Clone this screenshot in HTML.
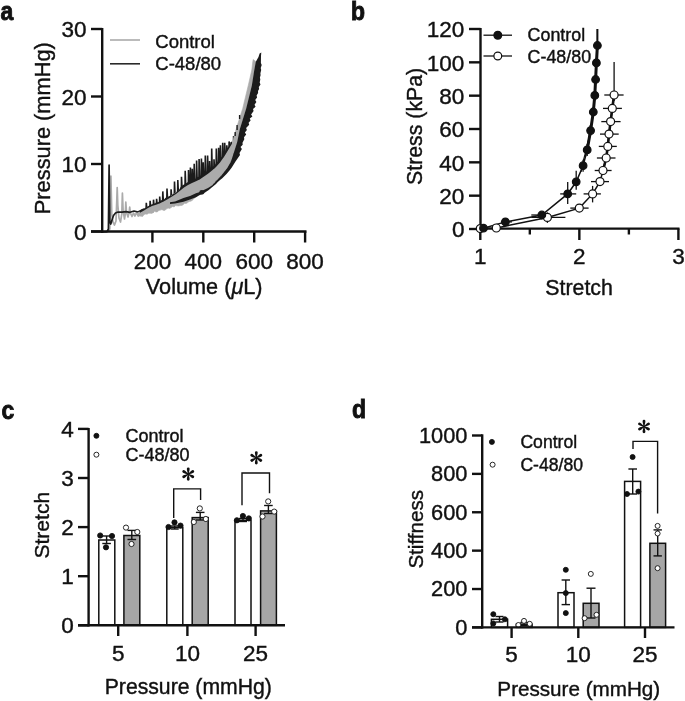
<!DOCTYPE html>
<html><head><meta charset="utf-8"><style>
html,body{margin:0;padding:0;background:#fff;overflow:hidden;}
svg{display:block;will-change:transform;}
text{font-family:"Liberation Sans", sans-serif;fill:#111;stroke:#111;stroke-width:0.4px;}
</style></head><body>
<svg width="685" height="701" viewBox="0 0 685 701">
<rect width="685" height="701" fill="#fff"/>
<text transform="translate(0.4,19.6) scale(0.9,1)" font-size="25.5" font-weight="bold" style="stroke-width:0.9px">a</text>
<text transform="translate(351.0,19.8) scale(0.9,1)" font-size="25.5" font-weight="bold" style="stroke-width:0.9px">b</text>
<text transform="translate(1.4,418.5) scale(0.9,1)" font-size="25.5" font-weight="bold" style="stroke-width:0.9px">c</text>
<text transform="translate(352.0,418.2) scale(0.9,1)" font-size="25.5" font-weight="bold" style="stroke-width:0.9px">d</text>
<polyline points="101.0,231.8 108.0,231.3 109.8,229.0 110.9,176.0 111.8,215.0 113.0,222.0 114.5,225.0 116.0,221.0 116.8,200.0 117.2,187.6 117.8,205.0 119.0,218.0 120.5,222.0 121.8,214.0 122.4,193.0 123.1,210.0 124.5,219.0 125.3,214.0 125.8,202.0 126.5,212.0 128.0,217.0 129.2,212.0 129.7,207.0 130.4,213.0 132.0,216.5 133.5,213.0 135.0,216.0 136.5,212.5 138.0,215.5 140.0,212.0 142.0,215.0 144.0,211.0 146.0,213.0" fill="none" stroke="#ababab" stroke-width="1.7" stroke-linejoin="round"/>
<polyline points="101.0,232.0 107.0,231.6 108.4,229.0 109.1,165.2 109.8,222.0 110.8,224.0 112.0,220.0 113.5,215.5 115.5,213.0 118.0,212.0 122.0,212.2 126.0,211.6 130.0,212.3 134.0,211.0 138.0,212.0 142.0,210.0 146.0,209.0 150.0,207.5" fill="none" stroke="#1c1c1c" stroke-width="1.7" stroke-linejoin="round"/>
<polyline points="146.0,211.5 146.3,202.9 146.9,209.5 149.8,211.5 150.1,200.8 150.7,207.1 153.2,210.4 153.5,199.7 154.1,205.9 156.3,209.3 156.6,198.8 157.2,204.8 159.4,208.2 159.7,196.6 160.3,203.7 162.5,206.7 162.8,191.4 163.4,202.2 166.7,204.7 167.0,188.6 167.6,200.0 170.8,203.2 171.1,189.2 171.7,197.6 174.2,202.2 174.5,181.5 175.1,195.4 177.5,201.3 177.8,180.0 178.4,193.0 181.2,200.3 181.5,176.8 182.1,189.9 184.9,199.2 185.2,170.8 185.8,187.1 188.2,198.1 188.5,170.0 189.1,185.1 190.1,197.5 190.4,167.6 191.0,184.0 192.0,196.6 192.3,168.7 192.9,183.1 193.9,195.9 194.2,163.7 194.8,182.3 196.3,194.8 196.6,160.6 197.2,181.2 198.8,193.2 199.1,159.1 199.7,180.2 201.1,192.4 201.4,158.4 202.0,178.6 202.9,191.9 203.2,162.3 203.8,177.4 205.0,190.9 205.3,155.5 205.9,175.9 207.3,189.8 207.6,155.6 208.2,174.4 209.3,188.5 209.6,161.1 210.2,173.0 211.4,186.9 211.7,148.6 212.3,171.3 213.7,185.0 214.0,159.2 214.6,169.4 216.0,183.0 216.3,148.6 216.9,167.0 218.3,180.4 218.6,147.7 219.2,164.6 220.1,178.4 220.4,145.2 221.0,162.6 222.4,175.8 222.7,142.8 223.3,159.3 224.4,173.4 224.7,142.8 225.3,156.4 226.5,170.3 226.8,145.3 227.4,152.9 228.8,166.3 229.1,141.4 229.7,148.9 230.9,162.2 231.2,141.9 231.8,145.6 233.3,158.0 233.6,136.1 234.2,140.0" fill="none" stroke="#1c1c1c" stroke-width="1.6" stroke-linejoin="miter"/>
<polygon points="138.0,212.6 139.5,212.2 141.0,211.6 142.5,210.3 144.0,209.0 145.5,208.7 147.0,207.7 148.5,207.0 150.0,206.7 151.5,205.8 153.0,205.0 154.5,204.6 156.0,204.2 157.5,202.7 159.0,203.5 160.5,202.7 162.0,202.1 163.5,201.2 165.0,199.8 166.5,198.9 168.0,197.6 169.5,197.6 171.0,195.8 172.5,194.8 174.0,194.0 175.5,193.0 177.0,192.2 178.5,190.5 180.0,189.2 181.5,188.1 183.0,186.8 184.5,186.2 186.0,184.7 187.5,185.1 189.0,183.8 190.5,182.2 192.0,181.7 193.5,181.2 195.0,180.6 196.5,179.6 198.0,180.1 199.5,179.6 201.0,177.7 202.5,176.6 204.0,174.9 205.5,173.9 207.0,173.3 208.5,172.2 210.0,172.0 211.5,169.7 213.0,168.2 214.5,168.4 216.0,166.1 217.5,163.9 219.0,162.9 220.5,160.2 222.0,158.9 223.5,157.5 225.1,155.0 232.6,142.1 236.1,129.3 242.7,108.5 248.2,85.7 251.8,70.0 252.8,61.7 253.2,59.5 256.0,61.7 254.5,70.0 252.0,85.7 246.4,108.5 240.0,129.3 237.4,142.1 233.3,155.0 234.1,155.4 232.6,157.9 231.1,160.8 229.6,164.5 228.1,167.4 226.6,169.5 225.1,171.3 223.6,173.2 222.1,175.0 220.6,176.0 219.1,178.1 217.6,179.5 216.1,180.6 214.6,182.3 213.1,184.3 211.6,185.9 210.1,188.2 208.6,189.8 207.1,190.1 205.6,192.0 204.1,193.2 202.6,194.3 201.1,194.2 199.6,194.8 198.1,195.7 196.6,196.6 195.1,197.5 193.6,199.1 192.1,200.5 190.6,201.3 189.1,201.5 187.6,202.6 186.1,203.6 184.6,203.2 183.1,204.8 181.6,205.5 180.1,205.6 178.6,205.9 177.1,205.8 175.6,205.6 174.1,206.9 172.6,206.5 171.1,207.6 169.6,208.5 168.1,208.1 166.6,208.8 165.1,210.3 163.6,210.4 162.1,209.7 160.6,209.8 159.1,210.2 157.6,211.7 156.1,212.0 154.6,211.3 153.1,212.7 151.6,213.4 150.1,213.2 148.6,213.3 147.1,214.2 145.6,214.1 144.1,214.4 142.6,216.5 141.1,216.2 139.6,216.0 138.1,216.7" fill="#ababab" stroke="#ababab" stroke-width="0.6"/>
<polygon points="140.0,210.8 141.5,209.4 143.0,208.6 144.5,208.6 146.0,207.6 147.5,206.6 149.0,205.8 150.5,204.4 152.0,204.4 153.5,203.6 155.0,203.6 156.5,201.9 158.0,202.2 159.5,201.5 161.0,200.6 162.5,199.4 164.0,199.4 165.5,197.8 167.0,197.5 168.5,196.6 170.0,195.8 171.5,195.6 173.0,194.0 174.5,193.4 176.0,192.7 177.5,190.4 179.0,190.0 180.5,187.3 182.0,185.7 183.5,184.7 185.0,184.1 186.5,182.9 188.0,181.9 189.5,180.6 191.0,180.9 192.5,179.6 194.0,179.4 195.5,178.7 197.0,177.3 198.5,177.0 200.0,176.1 201.5,174.7 203.0,173.4 204.5,173.1 206.0,171.8 207.5,171.0 209.0,169.9 210.5,168.5 212.0,167.6 213.5,166.3 215.0,164.9 216.5,162.6 218.0,161.4 219.5,159.5 221.0,157.4 222.5,156.3 224.0,153.7 225.5,150.7 227.0,148.3 228.5,146.8 230.0,144.4 231.5,141.4 232.0,143.6 228.0,150.2 224.0,156.8 220.0,162.5 216.0,166.9 212.0,170.6 208.0,173.7 204.0,176.4 200.0,179.2 196.0,181.2 192.0,182.9 188.0,185.0 184.0,187.5 180.0,190.8 176.0,194.0 172.0,196.6 168.0,199.0 164.0,201.3 160.0,203.3 156.0,204.7 152.0,206.1 148.0,208.1 144.0,210.6 140.0,212.8" fill="#1c1c1c"/>
<polygon points="170.0,202.2 175.0,201.4 183.5,197.9 190.0,196.0 196.0,193.2 199.2,192.3 202.7,190.4 208.0,188.0 212.0,185.6 216.0,181.6 220.0,177.5 220.0,179.5 216.0,183.9 212.0,187.2 208.0,190.5 202.7,193.8 199.2,195.2 196.0,197.3 190.0,199.6 183.5,201.7 175.0,203.4 170.0,204.1" fill="#1c1c1c"/>
<ellipse cx="201.8" cy="192.2" rx="2.5" ry="2.2" fill="#1c1c1c"/>
<polygon points="218.0,181.5 222.0,178.5 226.5,174.0 229.5,170.5 231.6,167.8 235.5,161.5 240.0,155.0 239.5,153.0 241.9,149.0 240.5,147.0 242.7,144.8 242.5,142.8 244.3,139.3 244.0,137.3 246.2,134.4 244.9,132.4 246.9,129.9 246.1,127.9 249.2,124.8 248.6,122.8 250.6,120.6 249.8,118.6 252.4,116.5 251.1,114.5 253.6,110.9 253.0,108.9 255.6,106.8 254.5,104.8 256.4,102.1 255.2,100.1 257.1,97.5 256.6,95.5 258.1,93.1 258.0,91.1 259.1,89.0 258.8,87.0 260.5,84.4 259.7,82.4 260.3,79.4 259.9,77.4 260.6,75.3 260.4,73.3 261.2,69.9 260.7,67.9 261.7,64.9 260.9,62.9 261.0,56.0 261.3,52.5 259.6,53.5 258.5,57.0 255.8,61.7 254.3,70.0 251.8,85.7 246.2,108.5 239.8,129.3 237.2,142.1 233.1,155.0 231.0,161.5 227.3,168.0 221.0,176.0 216.0,181.5" fill="#1c1c1c"/>
<line x1="237.1" y1="125" x2="237.1" y2="130" stroke="#1c1c1c" stroke-width="1.4"/>
<line x1="239.6" y1="115" x2="239.6" y2="119" stroke="#1c1c1c" stroke-width="1.4"/>
<line x1="235.2" y1="132" x2="235.2" y2="136" stroke="#1c1c1c" stroke-width="1.4"/>
<line x1="102.20" y1="28.00" x2="102.20" y2="232.70" stroke="#111" stroke-width="2.4" />
<line x1="91.00" y1="231.50" x2="306.50" y2="231.50" stroke="#111" stroke-width="2.4" />
<line x1="91.00" y1="29.00" x2="102.20" y2="29.00" stroke="#111" stroke-width="2.4" />
<line x1="91.00" y1="96.50" x2="102.20" y2="96.50" stroke="#111" stroke-width="2.4" />
<line x1="91.00" y1="164.00" x2="102.20" y2="164.00" stroke="#111" stroke-width="2.4" />
<line x1="91.00" y1="231.50" x2="102.20" y2="231.50" stroke="#111" stroke-width="2.4" />
<line x1="152.40" y1="231.50" x2="152.40" y2="242.50" stroke="#111" stroke-width="2.4" />
<text x="152.40" y="268.80" font-size="22.5" text-anchor="middle" font-weight="normal" >200</text>
<line x1="203.30" y1="231.50" x2="203.30" y2="242.50" stroke="#111" stroke-width="2.4" />
<text x="203.30" y="268.80" font-size="22.5" text-anchor="middle" font-weight="normal" >400</text>
<line x1="254.20" y1="231.50" x2="254.20" y2="242.50" stroke="#111" stroke-width="2.4" />
<text x="254.20" y="268.80" font-size="22.5" text-anchor="middle" font-weight="normal" >600</text>
<line x1="305.10" y1="231.50" x2="305.10" y2="242.50" stroke="#111" stroke-width="2.4" />
<text x="305.10" y="268.80" font-size="22.5" text-anchor="middle" font-weight="normal" >800</text>
<text x="86.60" y="37.30" font-size="22.5" text-anchor="end" font-weight="normal" >30</text>
<text x="86.60" y="104.80" font-size="22.5" text-anchor="end" font-weight="normal" >20</text>
<text x="86.60" y="172.30" font-size="22.5" text-anchor="end" font-weight="normal" >10</text>
<text x="86.60" y="239.80" font-size="22.5" text-anchor="end" font-weight="normal" >0</text>
<text x="204.2" y="294" font-size="21.7" text-anchor="middle">Volume (<tspan font-style="italic">μ</tspan>L)</text>
<text transform="translate(50.40,128.20) rotate(-90)" x="0" y="0" font-size="21.8" text-anchor="middle">Pressure (mmHg)</text>
<line x1="110.00" y1="40.00" x2="140.00" y2="40.00" stroke="#aaa" stroke-width="1.6" />
<line x1="110.00" y1="63.80" x2="140.00" y2="63.80" stroke="#2a2a2a" stroke-width="1.6" />
<text x="155.30" y="48.00" font-size="18.5" text-anchor="start" font-weight="normal" >Control</text>
<text x="155.30" y="70.20" font-size="18.5" text-anchor="start" font-weight="normal" >C-48/80</text>
<line x1="480.50" y1="28.00" x2="480.50" y2="229.80" stroke="#111" stroke-width="2.4" />
<line x1="479.30" y1="228.60" x2="679.50" y2="228.60" stroke="#111" stroke-width="2.4" />
<line x1="469.00" y1="229.00" x2="480.50" y2="229.00" stroke="#111" stroke-width="2.4" />
<text x="464.40" y="237.30" font-size="22.5" text-anchor="end" font-weight="normal" >0</text>
<line x1="469.00" y1="195.67" x2="480.50" y2="195.67" stroke="#111" stroke-width="2.4" />
<text x="464.40" y="203.97" font-size="22.5" text-anchor="end" font-weight="normal" >20</text>
<line x1="469.00" y1="162.33" x2="480.50" y2="162.33" stroke="#111" stroke-width="2.4" />
<text x="464.40" y="170.63" font-size="22.5" text-anchor="end" font-weight="normal" >40</text>
<line x1="469.00" y1="129.00" x2="480.50" y2="129.00" stroke="#111" stroke-width="2.4" />
<text x="464.40" y="137.30" font-size="22.5" text-anchor="end" font-weight="normal" >60</text>
<line x1="469.00" y1="95.67" x2="480.50" y2="95.67" stroke="#111" stroke-width="2.4" />
<text x="464.40" y="103.97" font-size="22.5" text-anchor="end" font-weight="normal" >80</text>
<line x1="469.00" y1="62.33" x2="480.50" y2="62.33" stroke="#111" stroke-width="2.4" />
<text x="464.40" y="70.63" font-size="22.5" text-anchor="end" font-weight="normal" >100</text>
<line x1="469.00" y1="29.00" x2="480.50" y2="29.00" stroke="#111" stroke-width="2.4" />
<text x="464.40" y="37.30" font-size="22.5" text-anchor="end" font-weight="normal" >120</text>
<line x1="480.30" y1="228.60" x2="480.30" y2="240.00" stroke="#111" stroke-width="2.4" />
<text x="480.30" y="264.00" font-size="22.5" text-anchor="middle" font-weight="normal" >1</text>
<line x1="579.35" y1="228.60" x2="579.35" y2="240.00" stroke="#111" stroke-width="2.4" />
<text x="579.35" y="264.00" font-size="22.5" text-anchor="middle" font-weight="normal" >2</text>
<line x1="678.40" y1="228.60" x2="678.40" y2="240.00" stroke="#111" stroke-width="2.4" />
<text x="678.40" y="264.00" font-size="22.5" text-anchor="middle" font-weight="normal" >3</text>
<line x1="529.83" y1="228.60" x2="529.83" y2="234.50" stroke="#111" stroke-width="2.4" />
<line x1="628.88" y1="228.60" x2="628.88" y2="234.50" stroke="#111" stroke-width="2.4" />
<text x="579.10" y="295.20" font-size="21.3" text-anchor="middle" font-weight="normal" >Stretch</text>
<text transform="translate(422.20,126.40) rotate(-90)" x="0" y="0" font-size="21.3" text-anchor="middle">Stress (kPa)</text>
<line x1="500.90" y1="221.90" x2="511.90" y2="221.90" stroke="#111" stroke-width="1.3" />
<line x1="531.30" y1="215.00" x2="550.80" y2="215.00" stroke="#111" stroke-width="1.3" />
<line x1="560.20" y1="193.90" x2="576.20" y2="193.90" stroke="#111" stroke-width="1.3" />
<line x1="567.70" y1="181.90" x2="567.70" y2="203.90" stroke="#111" stroke-width="1.3" />
<line x1="576.20" y1="170.80" x2="576.20" y2="189.80" stroke="#111" stroke-width="1.3" />
<line x1="583.10" y1="159.70" x2="583.10" y2="171.70" stroke="#111" stroke-width="1.3" />
<line x1="587.20" y1="143.90" x2="587.20" y2="155.90" stroke="#111" stroke-width="1.3" />
<line x1="590.60" y1="125.60" x2="590.60" y2="135.60" stroke="#111" stroke-width="1.3" />
<line x1="593.30" y1="107.00" x2="593.30" y2="117.00" stroke="#111" stroke-width="1.3" />
<line x1="594.80" y1="90.40" x2="594.80" y2="100.40" stroke="#111" stroke-width="1.3" />
<line x1="595.60" y1="74.50" x2="595.60" y2="84.50" stroke="#111" stroke-width="1.3" />
<line x1="596.40" y1="57.90" x2="596.40" y2="67.90" stroke="#111" stroke-width="1.3" />
<line x1="597.40" y1="29.00" x2="597.40" y2="62.50" stroke="#111" stroke-width="1.3" />
<line x1="531.40" y1="217.40" x2="565.40" y2="217.40" stroke="#111" stroke-width="1.3" />
<line x1="547.40" y1="212.40" x2="547.40" y2="222.90" stroke="#111" stroke-width="1.3" />
<line x1="570.30" y1="208.10" x2="588.60" y2="208.10" stroke="#111" stroke-width="1.3" />
<line x1="579.30" y1="204.60" x2="579.30" y2="211.60" stroke="#111" stroke-width="1.3" />
<line x1="583.60" y1="193.90" x2="600.90" y2="193.90" stroke="#111" stroke-width="1.3" />
<line x1="592.60" y1="185.90" x2="592.60" y2="202.40" stroke="#111" stroke-width="1.3" />
<line x1="591.00" y1="181.60" x2="609.00" y2="181.60" stroke="#111" stroke-width="1.3" />
<line x1="600.00" y1="177.10" x2="600.00" y2="186.10" stroke="#111" stroke-width="1.3" />
<line x1="594.70" y1="170.50" x2="611.60" y2="170.50" stroke="#111" stroke-width="1.3" />
<line x1="603.00" y1="166.50" x2="603.00" y2="174.50" stroke="#111" stroke-width="1.3" />
<line x1="596.90" y1="158.00" x2="615.50" y2="158.00" stroke="#111" stroke-width="1.3" />
<line x1="606.20" y1="154.00" x2="606.20" y2="162.00" stroke="#111" stroke-width="1.3" />
<line x1="598.80" y1="146.40" x2="616.80" y2="146.40" stroke="#111" stroke-width="1.3" />
<line x1="607.80" y1="142.40" x2="607.80" y2="150.40" stroke="#111" stroke-width="1.3" />
<line x1="600.00" y1="134.10" x2="618.70" y2="134.10" stroke="#111" stroke-width="1.3" />
<line x1="609.00" y1="130.10" x2="609.00" y2="138.10" stroke="#111" stroke-width="1.3" />
<line x1="601.30" y1="121.60" x2="620.60" y2="121.60" stroke="#111" stroke-width="1.3" />
<line x1="610.60" y1="117.60" x2="610.60" y2="125.60" stroke="#111" stroke-width="1.3" />
<line x1="603.00" y1="108.40" x2="621.90" y2="108.40" stroke="#111" stroke-width="1.3" />
<line x1="612.30" y1="104.40" x2="612.30" y2="112.40" stroke="#111" stroke-width="1.3" />
<line x1="604.30" y1="95.00" x2="623.60" y2="95.00" stroke="#111" stroke-width="1.3" />
<line x1="614.10" y1="62.00" x2="614.10" y2="101.00" stroke="#111" stroke-width="1.3" />
<polyline points="483.5,228.2 505.4,221.9 541.8,215.0 567.7,193.9 576.2,181.8 583.1,165.7 587.2,149.9 590.6,130.6 593.3,112.0 594.8,95.4 595.6,79.5 596.4,62.9 597.4,45.5" fill="none" stroke="#111" stroke-width="1.5"/>
<polyline points="480.3,228.6 496.3,228.0 547.4,217.4 579.3,208.1 592.6,193.9 600.0,181.6 603.0,170.5 606.2,158.0 607.8,146.4 609.0,134.1 610.6,121.6 612.3,108.4 614.1,95.0" fill="none" stroke="#111" stroke-width="1.5"/>
<polyline points="585.5,157 587.5,143 589,138 590.2,125" fill="none" stroke="#111" stroke-width="1.1"/>
<polyline points="581,172 583.5,160 586.2,150" fill="none" stroke="#111" stroke-width="1.1"/>
<polyline points="603.0,170.5 606.2,158.0 607.8,146.4 609.0,134.1 610.6,121.6 612.3,108.4 614.1,95.0" fill="none" stroke="#111" stroke-width="2.6"/>
<polyline points="587.2,149.9 590.6,130.6 593.3,112.0 594.8,95.4 595.6,79.5 596.4,62.9 597.4,45.5" fill="none" stroke="#111" stroke-width="3"/>
<line x1="597.40" y1="29.00" x2="597.40" y2="45.00" stroke="#111" stroke-width="1.9" />
<circle cx="480.30" cy="228.60" r="4.0" fill="#fff" stroke="#111" stroke-width="1.2"/>
<circle cx="496.30" cy="228.00" r="4.0" fill="#fff" stroke="#111" stroke-width="1.2"/>
<circle cx="547.40" cy="217.40" r="4.0" fill="#fff" stroke="#111" stroke-width="1.2"/>
<circle cx="579.30" cy="208.10" r="4.0" fill="#fff" stroke="#111" stroke-width="1.2"/>
<circle cx="592.60" cy="193.90" r="4.0" fill="#fff" stroke="#111" stroke-width="1.2"/>
<circle cx="600.00" cy="181.60" r="4.0" fill="#fff" stroke="#111" stroke-width="1.2"/>
<circle cx="603.00" cy="170.50" r="4.0" fill="#fff" stroke="#111" stroke-width="1.2"/>
<circle cx="606.20" cy="158.00" r="4.0" fill="#fff" stroke="#111" stroke-width="1.2"/>
<circle cx="607.80" cy="146.40" r="4.0" fill="#fff" stroke="#111" stroke-width="1.2"/>
<circle cx="609.00" cy="134.10" r="4.0" fill="#fff" stroke="#111" stroke-width="1.2"/>
<circle cx="610.60" cy="121.60" r="4.0" fill="#fff" stroke="#111" stroke-width="1.2"/>
<circle cx="612.30" cy="108.40" r="4.0" fill="#fff" stroke="#111" stroke-width="1.2"/>
<circle cx="614.10" cy="95.00" r="4.0" fill="#fff" stroke="#111" stroke-width="1.2"/>
<circle cx="483.50" cy="228.20" r="3.8" fill="#111" stroke="#111" stroke-width="1.2"/>
<circle cx="505.40" cy="221.90" r="3.8" fill="#111" stroke="#111" stroke-width="1.2"/>
<circle cx="541.80" cy="215.00" r="3.8" fill="#111" stroke="#111" stroke-width="1.2"/>
<circle cx="567.70" cy="193.90" r="3.8" fill="#111" stroke="#111" stroke-width="1.2"/>
<circle cx="576.20" cy="181.80" r="3.8" fill="#111" stroke="#111" stroke-width="1.2"/>
<circle cx="583.10" cy="165.70" r="3.8" fill="#111" stroke="#111" stroke-width="1.2"/>
<circle cx="587.20" cy="149.90" r="3.8" fill="#111" stroke="#111" stroke-width="1.2"/>
<circle cx="590.60" cy="130.60" r="3.8" fill="#111" stroke="#111" stroke-width="1.2"/>
<circle cx="593.30" cy="112.00" r="3.8" fill="#111" stroke="#111" stroke-width="1.2"/>
<circle cx="594.80" cy="95.40" r="3.8" fill="#111" stroke="#111" stroke-width="1.2"/>
<circle cx="595.60" cy="79.50" r="3.8" fill="#111" stroke="#111" stroke-width="1.2"/>
<circle cx="596.40" cy="62.90" r="3.8" fill="#111" stroke="#111" stroke-width="1.2"/>
<circle cx="597.40" cy="45.50" r="3.8" fill="#111" stroke="#111" stroke-width="1.2"/>
<line x1="483.50" y1="35.20" x2="512.00" y2="35.20" stroke="#111" stroke-width="1.3" />
<circle cx="497.80" cy="35.20" r="3.9" fill="#111" stroke="#111" stroke-width="1.2"/>
<line x1="483.50" y1="56.00" x2="512.00" y2="56.00" stroke="#111" stroke-width="1.3" />
<circle cx="497.80" cy="56.00" r="3.9" fill="#fff" stroke="#111" stroke-width="1.2"/>
<text x="527.60" y="41.30" font-size="17.85" text-anchor="start" font-weight="normal" >Control</text>
<text x="527.60" y="62.70" font-size="17.85" text-anchor="start" font-weight="normal" >C-48/80</text>
<rect x="98.80" y="540.00" width="16.00" height="85.30" fill="#fff" stroke="#111" stroke-width="1.5"/>
<rect x="123.90" y="535.50" width="15.90" height="89.80" fill="#a6a6a6" stroke="#111" stroke-width="1.5"/>
<rect x="166.80" y="527.50" width="16.00" height="97.80" fill="#fff" stroke="#111" stroke-width="1.5"/>
<rect x="192.20" y="517.60" width="16.00" height="107.70" fill="#a6a6a6" stroke="#111" stroke-width="1.5"/>
<rect x="235.00" y="520.30" width="16.00" height="105.00" fill="#fff" stroke="#111" stroke-width="1.5"/>
<rect x="260.60" y="510.90" width="15.80" height="114.40" fill="#a6a6a6" stroke="#111" stroke-width="1.5"/>
<line x1="106.60" y1="536.00" x2="106.60" y2="543.50" stroke="#111" stroke-width="1.4" />
<line x1="102.30" y1="536.00" x2="110.90" y2="536.00" stroke="#111" stroke-width="1.4" />
<line x1="102.30" y1="543.50" x2="110.90" y2="543.50" stroke="#111" stroke-width="1.4" />
<line x1="131.80" y1="530.40" x2="131.80" y2="539.50" stroke="#111" stroke-width="1.4" />
<line x1="127.50" y1="530.40" x2="136.10" y2="530.40" stroke="#111" stroke-width="1.4" />
<line x1="127.50" y1="539.50" x2="136.10" y2="539.50" stroke="#111" stroke-width="1.4" />
<line x1="174.70" y1="526.00" x2="174.70" y2="529.00" stroke="#111" stroke-width="1.4" />
<line x1="170.70" y1="526.00" x2="178.70" y2="526.00" stroke="#111" stroke-width="1.4" />
<line x1="170.70" y1="529.00" x2="178.70" y2="529.00" stroke="#111" stroke-width="1.4" />
<line x1="200.20" y1="512.40" x2="200.20" y2="520.00" stroke="#111" stroke-width="1.4" />
<line x1="195.90" y1="512.40" x2="204.50" y2="512.40" stroke="#111" stroke-width="1.4" />
<line x1="195.90" y1="520.00" x2="204.50" y2="520.00" stroke="#111" stroke-width="1.4" />
<line x1="243.00" y1="518.50" x2="243.00" y2="521.50" stroke="#111" stroke-width="1.4" />
<line x1="239.00" y1="518.50" x2="247.00" y2="518.50" stroke="#111" stroke-width="1.4" />
<line x1="239.00" y1="521.50" x2="247.00" y2="521.50" stroke="#111" stroke-width="1.4" />
<line x1="268.40" y1="505.50" x2="268.40" y2="513.50" stroke="#111" stroke-width="1.4" />
<line x1="264.10" y1="505.50" x2="272.70" y2="505.50" stroke="#111" stroke-width="1.4" />
<line x1="264.10" y1="513.50" x2="272.70" y2="513.50" stroke="#111" stroke-width="1.4" />
<circle cx="100.20" cy="535.50" r="2.6" fill="#111" stroke="#111" stroke-width="0.9"/>
<circle cx="112.00" cy="536.00" r="2.6" fill="#111" stroke="#111" stroke-width="0.9"/>
<circle cx="106.00" cy="547.30" r="2.6" fill="#111" stroke="#111" stroke-width="0.9"/>
<circle cx="168.50" cy="527.00" r="2.6" fill="#111" stroke="#111" stroke-width="0.9"/>
<circle cx="174.50" cy="522.40" r="2.6" fill="#111" stroke="#111" stroke-width="0.9"/>
<circle cx="180.50" cy="525.60" r="2.6" fill="#111" stroke="#111" stroke-width="0.9"/>
<circle cx="236.90" cy="520.30" r="2.6" fill="#111" stroke="#111" stroke-width="0.9"/>
<circle cx="242.90" cy="516.00" r="2.6" fill="#111" stroke="#111" stroke-width="0.9"/>
<circle cx="248.80" cy="518.40" r="2.6" fill="#111" stroke="#111" stroke-width="0.9"/>
<circle cx="126.00" cy="527.60" r="2.6" fill="#fff" stroke="#111" stroke-width="0.9"/>
<circle cx="137.30" cy="532.00" r="2.6" fill="#fff" stroke="#111" stroke-width="0.9"/>
<circle cx="131.50" cy="544.00" r="2.6" fill="#fff" stroke="#111" stroke-width="0.9"/>
<circle cx="199.80" cy="508.40" r="2.6" fill="#fff" stroke="#111" stroke-width="0.9"/>
<circle cx="205.80" cy="519.00" r="2.6" fill="#fff" stroke="#111" stroke-width="0.9"/>
<circle cx="193.80" cy="522.00" r="2.6" fill="#fff" stroke="#111" stroke-width="0.9"/>
<circle cx="268.20" cy="501.40" r="2.6" fill="#fff" stroke="#111" stroke-width="0.9"/>
<circle cx="274.20" cy="511.60" r="2.6" fill="#fff" stroke="#111" stroke-width="0.9"/>
<circle cx="262.50" cy="516.50" r="2.6" fill="#fff" stroke="#111" stroke-width="0.9"/>
<polyline points="173.7,517.9 173.7,488.9 200.6,488.9 200.6,500" fill="none" stroke="#111" stroke-width="1.4"/>
<polyline points="242,505.2 242,473 269.5,473 269.5,493.2" fill="none" stroke="#111" stroke-width="1.4"/>
<g transform="translate(188.25,474.10) scale(1.0)" fill="#111"><path d="M -0.5,0 C -0.65,-2 -1.4,-3.4 -1.4,-5.25 A 1.4,1.4 0 0 1 1.4,-5.25 C 1.4,-3.4 0.65,-2 0.5,0 Z" transform="rotate(0)"/><path d="M -0.5,0 C -0.65,-2 -1.4,-3.4 -1.4,-5.25 A 1.4,1.4 0 0 1 1.4,-5.25 C 1.4,-3.4 0.65,-2 0.5,0 Z" transform="rotate(60)"/><path d="M -0.5,0 C -0.65,-2 -1.4,-3.4 -1.4,-5.25 A 1.4,1.4 0 0 1 1.4,-5.25 C 1.4,-3.4 0.65,-2 0.5,0 Z" transform="rotate(120)"/><path d="M -0.5,0 C -0.65,-2 -1.4,-3.4 -1.4,-5.25 A 1.4,1.4 0 0 1 1.4,-5.25 C 1.4,-3.4 0.65,-2 0.5,0 Z" transform="rotate(180)"/><path d="M -0.5,0 C -0.65,-2 -1.4,-3.4 -1.4,-5.25 A 1.4,1.4 0 0 1 1.4,-5.25 C 1.4,-3.4 0.65,-2 0.5,0 Z" transform="rotate(240)"/><path d="M -0.5,0 C -0.65,-2 -1.4,-3.4 -1.4,-5.25 A 1.4,1.4 0 0 1 1.4,-5.25 C 1.4,-3.4 0.65,-2 0.5,0 Z" transform="rotate(300)"/><circle r="0.9"/></g>
<g transform="translate(256.30,457.80) scale(1.0)" fill="#111"><path d="M -0.5,0 C -0.65,-2 -1.4,-3.4 -1.4,-5.25 A 1.4,1.4 0 0 1 1.4,-5.25 C 1.4,-3.4 0.65,-2 0.5,0 Z" transform="rotate(0)"/><path d="M -0.5,0 C -0.65,-2 -1.4,-3.4 -1.4,-5.25 A 1.4,1.4 0 0 1 1.4,-5.25 C 1.4,-3.4 0.65,-2 0.5,0 Z" transform="rotate(60)"/><path d="M -0.5,0 C -0.65,-2 -1.4,-3.4 -1.4,-5.25 A 1.4,1.4 0 0 1 1.4,-5.25 C 1.4,-3.4 0.65,-2 0.5,0 Z" transform="rotate(120)"/><path d="M -0.5,0 C -0.65,-2 -1.4,-3.4 -1.4,-5.25 A 1.4,1.4 0 0 1 1.4,-5.25 C 1.4,-3.4 0.65,-2 0.5,0 Z" transform="rotate(180)"/><path d="M -0.5,0 C -0.65,-2 -1.4,-3.4 -1.4,-5.25 A 1.4,1.4 0 0 1 1.4,-5.25 C 1.4,-3.4 0.65,-2 0.5,0 Z" transform="rotate(240)"/><path d="M -0.5,0 C -0.65,-2 -1.4,-3.4 -1.4,-5.25 A 1.4,1.4 0 0 1 1.4,-5.25 C 1.4,-3.4 0.65,-2 0.5,0 Z" transform="rotate(300)"/><circle r="0.9"/></g>
<line x1="88.60" y1="428.00" x2="88.60" y2="626.50" stroke="#111" stroke-width="2.4" />
<line x1="78.00" y1="625.30" x2="285.00" y2="625.30" stroke="#111" stroke-width="2.4" />
<line x1="78.00" y1="625.30" x2="88.60" y2="625.30" stroke="#111" stroke-width="2.4" />
<text x="73.80" y="633.10" font-size="22.5" text-anchor="end" font-weight="normal" >0</text>
<line x1="78.00" y1="576.20" x2="88.60" y2="576.20" stroke="#111" stroke-width="2.4" />
<text x="73.80" y="584.00" font-size="22.5" text-anchor="end" font-weight="normal" >1</text>
<line x1="78.00" y1="527.10" x2="88.60" y2="527.10" stroke="#111" stroke-width="2.4" />
<text x="73.80" y="534.90" font-size="22.5" text-anchor="end" font-weight="normal" >2</text>
<line x1="78.00" y1="478.00" x2="88.60" y2="478.00" stroke="#111" stroke-width="2.4" />
<text x="73.80" y="485.80" font-size="22.5" text-anchor="end" font-weight="normal" >3</text>
<line x1="78.00" y1="428.90" x2="88.60" y2="428.90" stroke="#111" stroke-width="2.4" />
<text x="73.80" y="436.70" font-size="22.5" text-anchor="end" font-weight="normal" >4</text>
<line x1="118.20" y1="625.30" x2="118.20" y2="636.00" stroke="#111" stroke-width="2.4" />
<text x="118.20" y="661.00" font-size="22.5" text-anchor="middle" font-weight="normal" >5</text>
<line x1="187.40" y1="625.30" x2="187.40" y2="636.00" stroke="#111" stroke-width="2.4" />
<text x="187.40" y="661.00" font-size="22.5" text-anchor="middle" font-weight="normal" >10</text>
<line x1="255.60" y1="625.30" x2="255.60" y2="636.00" stroke="#111" stroke-width="2.4" />
<text x="255.60" y="661.00" font-size="22.5" text-anchor="middle" font-weight="normal" >25</text>
<text x="188.30" y="693.70" font-size="21.2" text-anchor="middle" font-weight="normal" >Pressure (mmHg)</text>
<text transform="translate(48.90,525.20) rotate(-90)" x="0" y="0" font-size="21.1" text-anchor="middle">Stretch</text>
<circle cx="96.40" cy="435.80" r="2.5" fill="#111" stroke="#111" stroke-width="0.9"/>
<circle cx="96.40" cy="454.70" r="2.5" fill="#fff" stroke="#111" stroke-width="0.9"/>
<text x="125.40" y="441.90" font-size="18.0" text-anchor="start" font-weight="normal" >Control</text>
<text x="125.40" y="460.60" font-size="18.0" text-anchor="start" font-weight="normal" >C-48/80</text>
<rect x="491.40" y="619.30" width="16.20" height="8.10" fill="#fff" stroke="#111" stroke-width="1.5"/>
<rect x="516.40" y="624.20" width="15.70" height="3.20" fill="#a6a6a6" stroke="#111" stroke-width="1.5"/>
<rect x="558.00" y="592.70" width="16.00" height="34.70" fill="#fff" stroke="#111" stroke-width="1.5"/>
<rect x="583.20" y="603.30" width="15.80" height="24.10" fill="#a6a6a6" stroke="#111" stroke-width="1.5"/>
<rect x="624.60" y="481.40" width="16.00" height="146.00" fill="#fff" stroke="#111" stroke-width="1.5"/>
<rect x="649.90" y="543.30" width="15.70" height="84.10" fill="#a6a6a6" stroke="#111" stroke-width="1.5"/>
<line x1="499.50" y1="616.50" x2="499.50" y2="622.00" stroke="#111" stroke-width="1.4" />
<line x1="495.50" y1="616.50" x2="503.50" y2="616.50" stroke="#111" stroke-width="1.4" />
<line x1="495.50" y1="622.00" x2="503.50" y2="622.00" stroke="#111" stroke-width="1.4" />
<line x1="524.30" y1="622.50" x2="524.30" y2="625.50" stroke="#111" stroke-width="1.4" />
<line x1="520.30" y1="622.50" x2="528.30" y2="622.50" stroke="#111" stroke-width="1.4" />
<line x1="520.30" y1="625.50" x2="528.30" y2="625.50" stroke="#111" stroke-width="1.4" />
<line x1="565.80" y1="580.00" x2="565.80" y2="604.60" stroke="#111" stroke-width="1.4" />
<line x1="561.60" y1="580.00" x2="570.00" y2="580.00" stroke="#111" stroke-width="1.4" />
<line x1="561.60" y1="604.60" x2="570.00" y2="604.60" stroke="#111" stroke-width="1.4" />
<line x1="591.00" y1="588.20" x2="591.00" y2="618.00" stroke="#111" stroke-width="1.4" />
<line x1="586.50" y1="588.20" x2="595.50" y2="588.20" stroke="#111" stroke-width="1.4" />
<line x1="586.50" y1="618.00" x2="595.50" y2="618.00" stroke="#111" stroke-width="1.4" />
<line x1="632.70" y1="469.00" x2="632.70" y2="494.00" stroke="#111" stroke-width="1.4" />
<line x1="628.40" y1="469.00" x2="637.00" y2="469.00" stroke="#111" stroke-width="1.4" />
<line x1="628.40" y1="494.00" x2="637.00" y2="494.00" stroke="#111" stroke-width="1.4" />
<line x1="657.70" y1="529.90" x2="657.70" y2="555.90" stroke="#111" stroke-width="1.4" />
<line x1="653.50" y1="529.90" x2="661.90" y2="529.90" stroke="#111" stroke-width="1.4" />
<line x1="653.50" y1="555.90" x2="661.90" y2="555.90" stroke="#111" stroke-width="1.4" />
<circle cx="493.30" cy="614.20" r="2.5" fill="#111" stroke="#111" stroke-width="0.9"/>
<circle cx="504.90" cy="619.30" r="2.5" fill="#111" stroke="#111" stroke-width="0.9"/>
<circle cx="493.30" cy="623.40" r="2.5" fill="#111" stroke="#111" stroke-width="0.9"/>
<circle cx="565.80" cy="569.80" r="2.5" fill="#111" stroke="#111" stroke-width="0.9"/>
<circle cx="565.80" cy="593.10" r="2.5" fill="#111" stroke="#111" stroke-width="0.9"/>
<circle cx="565.80" cy="613.10" r="2.5" fill="#111" stroke="#111" stroke-width="0.9"/>
<circle cx="632.60" cy="457.00" r="2.5" fill="#111" stroke="#111" stroke-width="0.9"/>
<circle cx="627.00" cy="494.00" r="2.5" fill="#111" stroke="#111" stroke-width="0.9"/>
<circle cx="638.40" cy="491.60" r="2.5" fill="#111" stroke="#111" stroke-width="0.9"/>
<circle cx="518.40" cy="625.00" r="2.5" fill="#fff" stroke="#111" stroke-width="0.9"/>
<circle cx="524.00" cy="620.90" r="2.5" fill="#fff" stroke="#111" stroke-width="0.9"/>
<circle cx="529.70" cy="623.80" r="2.5" fill="#fff" stroke="#111" stroke-width="0.9"/>
<circle cx="590.80" cy="573.90" r="2.5" fill="#fff" stroke="#111" stroke-width="0.9"/>
<circle cx="584.60" cy="618.20" r="2.5" fill="#fff" stroke="#111" stroke-width="0.9"/>
<circle cx="596.50" cy="614.80" r="2.5" fill="#fff" stroke="#111" stroke-width="0.9"/>
<circle cx="657.60" cy="525.90" r="2.5" fill="#fff" stroke="#111" stroke-width="0.9"/>
<circle cx="657.60" cy="533.50" r="2.5" fill="#fff" stroke="#111" stroke-width="0.9"/>
<circle cx="657.60" cy="568.20" r="2.5" fill="#fff" stroke="#111" stroke-width="0.9"/>
<polyline points="633,449 633,441.4 657.6,441.4 657.6,513.6" fill="none" stroke="#111" stroke-width="1.4"/>
<g transform="translate(644.00,426.50) scale(1.0)" fill="#111"><path d="M -0.5,0 C -0.65,-2 -1.4,-3.4 -1.4,-5.25 A 1.4,1.4 0 0 1 1.4,-5.25 C 1.4,-3.4 0.65,-2 0.5,0 Z" transform="rotate(0)"/><path d="M -0.5,0 C -0.65,-2 -1.4,-3.4 -1.4,-5.25 A 1.4,1.4 0 0 1 1.4,-5.25 C 1.4,-3.4 0.65,-2 0.5,0 Z" transform="rotate(60)"/><path d="M -0.5,0 C -0.65,-2 -1.4,-3.4 -1.4,-5.25 A 1.4,1.4 0 0 1 1.4,-5.25 C 1.4,-3.4 0.65,-2 0.5,0 Z" transform="rotate(120)"/><path d="M -0.5,0 C -0.65,-2 -1.4,-3.4 -1.4,-5.25 A 1.4,1.4 0 0 1 1.4,-5.25 C 1.4,-3.4 0.65,-2 0.5,0 Z" transform="rotate(180)"/><path d="M -0.5,0 C -0.65,-2 -1.4,-3.4 -1.4,-5.25 A 1.4,1.4 0 0 1 1.4,-5.25 C 1.4,-3.4 0.65,-2 0.5,0 Z" transform="rotate(240)"/><path d="M -0.5,0 C -0.65,-2 -1.4,-3.4 -1.4,-5.25 A 1.4,1.4 0 0 1 1.4,-5.25 C 1.4,-3.4 0.65,-2 0.5,0 Z" transform="rotate(300)"/><circle r="0.9"/></g>
<line x1="482.20" y1="434.30" x2="482.20" y2="628.60" stroke="#111" stroke-width="2.4" />
<line x1="472.00" y1="627.40" x2="674.50" y2="627.40" stroke="#111" stroke-width="2.4" />
<line x1="472.00" y1="627.40" x2="482.20" y2="627.40" stroke="#111" stroke-width="2.4" />
<text x="467.40" y="634.70" font-size="21.8" text-anchor="end" font-weight="normal" >0</text>
<line x1="472.00" y1="589.02" x2="482.20" y2="589.02" stroke="#111" stroke-width="2.4" />
<text x="467.40" y="596.32" font-size="21.8" text-anchor="end" font-weight="normal" >200</text>
<line x1="472.00" y1="550.64" x2="482.20" y2="550.64" stroke="#111" stroke-width="2.4" />
<text x="467.40" y="557.94" font-size="21.8" text-anchor="end" font-weight="normal" >400</text>
<line x1="472.00" y1="512.26" x2="482.20" y2="512.26" stroke="#111" stroke-width="2.4" />
<text x="467.40" y="519.56" font-size="21.8" text-anchor="end" font-weight="normal" >600</text>
<line x1="472.00" y1="473.88" x2="482.20" y2="473.88" stroke="#111" stroke-width="2.4" />
<text x="467.40" y="481.18" font-size="21.8" text-anchor="end" font-weight="normal" >800</text>
<line x1="472.00" y1="435.50" x2="482.20" y2="435.50" stroke="#111" stroke-width="2.4" />
<text x="467.40" y="442.80" font-size="21.8" text-anchor="end" font-weight="normal" >1000</text>
<line x1="511.60" y1="627.40" x2="511.60" y2="638.00" stroke="#111" stroke-width="2.4" />
<text x="511.60" y="662.00" font-size="22.5" text-anchor="middle" font-weight="normal" >5</text>
<line x1="578.30" y1="627.40" x2="578.30" y2="638.00" stroke="#111" stroke-width="2.4" />
<text x="578.30" y="662.00" font-size="22.5" text-anchor="middle" font-weight="normal" >10</text>
<line x1="645.00" y1="627.40" x2="645.00" y2="638.00" stroke="#111" stroke-width="2.4" />
<text x="645.00" y="662.00" font-size="22.5" text-anchor="middle" font-weight="normal" >25</text>
<text x="578.80" y="695.60" font-size="20.65" text-anchor="middle" font-weight="normal" >Pressure (mmHg)</text>
<text transform="translate(422.90,529.30) rotate(-90)" x="0" y="0" font-size="20.6" text-anchor="middle">Stiffness</text>
<circle cx="491.90" cy="441.90" r="2.5" fill="#111" stroke="#111" stroke-width="0.9"/>
<circle cx="492.60" cy="464.70" r="2.5" fill="#fff" stroke="#111" stroke-width="0.9"/>
<text x="520.40" y="448.00" font-size="17.6" text-anchor="start" font-weight="normal" >Control</text>
<text x="520.40" y="470.50" font-size="17.6" text-anchor="start" font-weight="normal" >C-48/80</text>
</svg>
</body></html>
